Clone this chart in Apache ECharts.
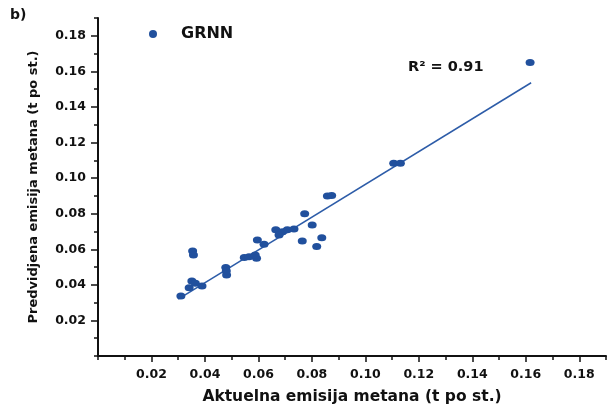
<!DOCTYPE html>
<html>
<head>
<meta charset="utf-8">
<script src="https://cdn.jsdelivr.net/npm/echarts@6/dist/echarts.min.js"></script>
<style>html,body{margin:0;padding:0;background:#fff;}#c{width:609px;height:412px;}</style>
</head>
<body>
<div id="c"></div>
<script>
// Data
var actual = [0.0310, 0.0341, 0.0351, 0.0364, 0.0389, 0.0354, 0.0357, 0.0478, 0.0481, 0.0480,
  0.0547, 0.0565, 0.0593, 0.0588, 0.0596, 0.0621, 0.0665, 0.0690, 0.0708, 0.0733, 0.0677,
  0.0773, 0.0801, 0.0764, 0.0837, 0.0818, 0.0858, 0.0874, 0.1106, 0.1131, 0.1616];
var predicted = [0.0337, 0.0384, 0.0422, 0.0409, 0.0394, 0.0590, 0.0568, 0.0497, 0.0456, 0.0478,
  0.0553, 0.0558, 0.0549, 0.0568, 0.0652, 0.0628, 0.0709, 0.0699, 0.0709, 0.0714, 0.0680,
  0.0799, 0.0737, 0.0647, 0.0665, 0.0615, 0.0900, 0.0902, 0.1084, 0.1084, 0.1650];
var fitX = [0.030, 0.162];
var fitY = [0.0320, 0.1536];
var majorTicks = [0.02, 0.04, 0.06, 0.08, 0.10, 0.12, 0.14, 0.16, 0.18];
var seriesName = 'GRNN';
var r2Label = 'R² = 0.91';
var panelLabel = 'b)';
var xTitle = 'Aktuelna emisija metana (t po st.)';
var yTitle = 'Predvidjena emisija metana (t po st.)';

var pts = actual.map(function (x, i) { return [x, predicted[i]]; });
var fitLine = fitX.map(function (x, i) { return [x, fitY[i]]; });

var blue = '#21509d';
var ellipse = 'path://M0 5A5 5 0 1 1 10 5A5 5 0 1 1 0 5Z';
var font = 'DejaVu Sans';

function fmt(v) {
  var k = Math.round(v * 100);
  if (k <= 0 || k % 2 !== 0) return '';
  return v.toFixed(2);
}

var chart = echarts.init(document.getElementById('c'), null, {renderer: 'canvas'});
chart.setOption({
  animation: false,
  backgroundColor: '#fff',
  grid: {left: 98, top: 18, width: 510, height: 338, containLabel: false},
  legend: {
    left: 144, top: 21,
    itemWidth: 10, itemHeight: 8,
    data: [{name: seriesName, icon: ellipse}],
    textStyle: {fontFamily: font, fontWeight: 'bold', fontSize: 16, color: '#111', padding: [0, 0, 0, 18]}
  },
  graphic: [
    {type: 'text', left: 10, top: 8, style: {text: panelLabel, font: 'bold 14px "DejaVu Sans"', fill: '#111'}},
    {type: 'text', left: 408, top: 60, style: {text: r2Label, font: 'bold 14.5px "DejaVu Sans"', fill: '#111'}}
  ],
  xAxis: [{
    type: 'value', min: 0, max: 0.19, interval: 0.01,
    name: xTitle, nameLocation: 'middle', nameGap: 33,
    nameTextStyle: {fontFamily: font, fontWeight: 'bold', fontSize: 15.5, color: '#111'},
    axisLine: {lineStyle: {color: '#111', width: 2}},
    axisTick: {length: 4, lineStyle: {color: '#111', width: 1.5}},
    axisLabel: {formatter: fmt, margin: 12, fontFamily: font, fontWeight: 'bold', fontSize: 12.5, color: '#111'},
    splitLine: {show: false}
  }, {
    type: 'value', min: 0, max: 0.19, position: 'bottom',
    axisLine: {show: false},
    axisTick: {length: 6, customValues: majorTicks, lineStyle: {color: '#111', width: 1.5}},
    axisLabel: {show: false}, splitLine: {show: false}
  }],
  yAxis: [{
    type: 'value', min: 0, max: 0.19, interval: 0.01,
    name: yTitle, nameLocation: 'middle', nameGap: 58,
    nameTextStyle: {fontFamily: font, fontWeight: 'bold', fontSize: 13, color: '#111'},
    axisLine: {lineStyle: {color: '#111', width: 2}},
    axisTick: {length: 4, lineStyle: {color: '#111', width: 1.5}},
    axisLabel: {formatter: fmt, margin: 12, fontFamily: font, fontWeight: 'bold', fontSize: 12.5, color: '#111'},
    splitLine: {show: false}
  }, {
    type: 'value', min: 0, max: 0.19, position: 'left',
    axisLine: {show: false},
    axisTick: {length: 7, customValues: majorTicks, lineStyle: {color: '#111', width: 1.5}},
    axisLabel: {show: false}, splitLine: {show: false}
  }],
  series: [{
    name: seriesName, type: 'scatter', data: pts,
    symbol: ellipse, symbolSize: [9, 7],
    itemStyle: {color: blue, opacity: 1}, z: 3
  }, {
    name: 'fit', type: 'line', data: fitLine, showSymbol: false, symbol: 'none',
    lineStyle: {color: '#2d5ca8', width: 1.5}, z: 2
  }]
});
</script>
</body>
</html>
